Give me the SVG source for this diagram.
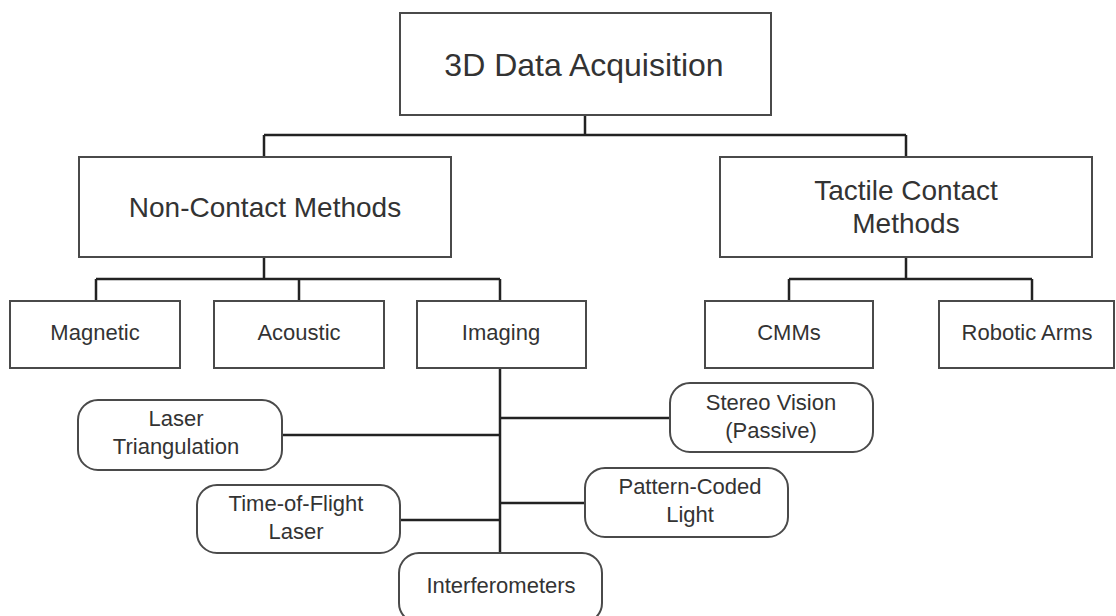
<svg xmlns="http://www.w3.org/2000/svg" width="1116" height="616" viewBox="0 0 1116 616">
  <style>
    .box { fill: #ffffff; stroke: #4a4a4a; stroke-width: 2; }
    .pill { fill: #ffffff; stroke: #4a4a4a; stroke-width: 2; }
    .wire { fill: none; stroke: #222222; stroke-width: 2.5; }
    text { font-family: "Liberation Sans", Arial, sans-serif; fill: #333333; text-anchor: middle; }
    .t1 { font-size: 32px; }
    .t2 { font-size: 28px; }
    .t3 { font-size: 22px; }
  </style>
  <rect width="1116" height="616" fill="#ffffff"/>

  <!-- connectors -->
  <g id="connectors">
    <path class="wire" d="M585 115 V135 M264 135 H906 M264 135 V157 M906 135 V157"/>
    <path class="wire" d="M264 257 V279 M96 279 H500 M96 279 V301 M299 279 V301 M500 279 V301"/>
    <path class="wire" d="M906 257 V279 M789 279 H1032 M789 279 V301 M1032 279 V301"/>
    <path class="wire" d="M500 368 V553"/>
    <path class="wire" d="M500 418 H670 M282 435 H500 M500 503 H585 M400 520 H500"/>
  </g>

  <g id="root">
    <rect class="box" x="400" y="13" width="371" height="102"/>
    <text class="t1" x="584" y="76">3D Data Acquisition</text>
  </g>

  <g id="non-contact">
    <rect class="box" x="79" y="157" width="372" height="100"/>
    <text class="t2" x="265" y="217">Non-Contact Methods</text>
  </g>

  <g id="tactile">
    <rect class="box" x="720" y="157" width="372" height="100"/>
    <text class="t2" x="906" y="200">Tactile Contact</text>
    <text class="t2" x="906" y="233">Methods</text>
  </g>

  <g id="magnetic">
    <rect class="box" x="10" y="301" width="170" height="67"/>
    <text class="t3" x="95" y="340">Magnetic</text>
  </g>

  <g id="acoustic">
    <rect class="box" x="214" y="301" width="170" height="67"/>
    <text class="t3" x="299" y="340">Acoustic</text>
  </g>

  <g id="imaging">
    <rect class="box" x="417" y="301" width="169" height="67"/>
    <text class="t3" x="501" y="340">Imaging</text>
  </g>

  <g id="cmms">
    <rect class="box" x="705" y="301" width="168" height="67"/>
    <text class="t3" x="789" y="340">CMMs</text>
  </g>

  <g id="robotic-arms">
    <rect class="box" x="939" y="301" width="175" height="67"/>
    <text class="t3" x="1027" y="340">Robotic Arms</text>
  </g>

  <g id="stereo-vision">
    <rect class="pill" x="670" y="383" width="203" height="69" rx="20"/>
    <text class="t3" x="771" y="410">Stereo Vision</text>
    <text class="t3" x="771" y="438">(Passive)</text>
  </g>

  <g id="laser-triangulation">
    <rect class="pill" x="78" y="400" width="204" height="70" rx="20"/>
    <text class="t3" x="176" y="426">Laser</text>
    <text class="t3" x="176" y="454">Triangulation</text>
  </g>

  <g id="pattern-coded-light">
    <rect class="pill" x="585" y="468" width="203" height="69" rx="20"/>
    <text class="t3" x="690" y="494">Pattern-Coded</text>
    <text class="t3" x="690" y="522">Light</text>
  </g>

  <g id="time-of-flight">
    <rect class="pill" x="197" y="485" width="203" height="68" rx="20"/>
    <text class="t3" x="296" y="511">Time-of-Flight</text>
    <text class="t3" x="296" y="539">Laser</text>
  </g>

  <g id="interferometers">
    <rect class="pill" x="399" y="553" width="203" height="70" rx="20"/>
    <text class="t3" x="501" y="593">Interferometers</text>
  </g>
</svg>
